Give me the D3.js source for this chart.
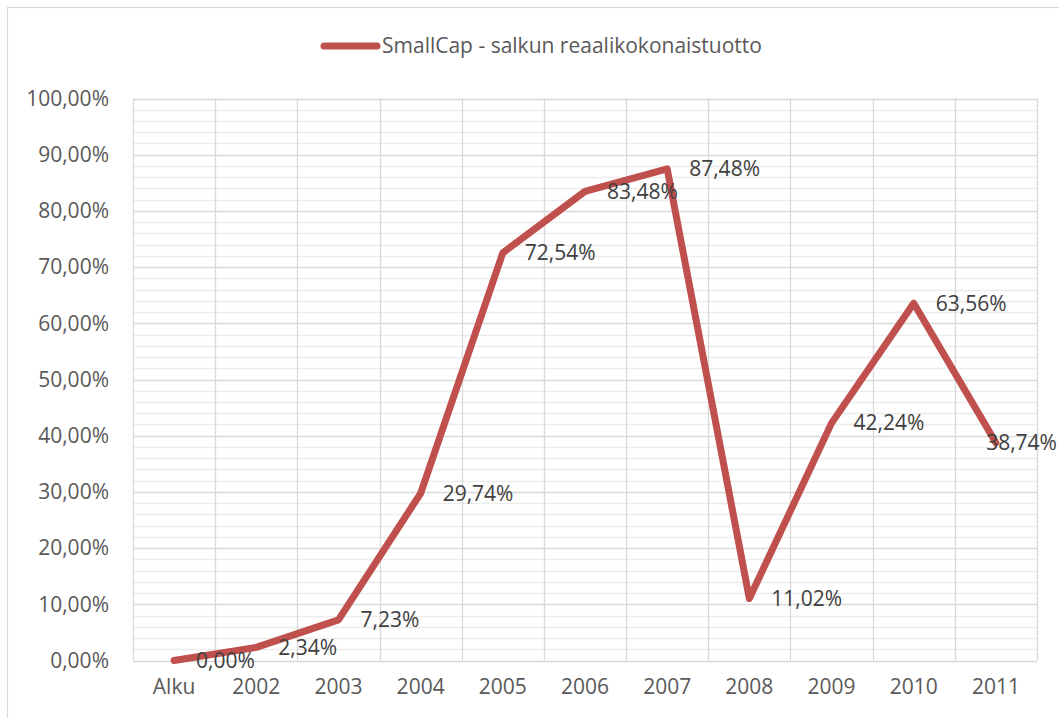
<!DOCTYPE html>
<html>
<head>
<meta charset="utf-8">
<script src="https://cdn.jsdelivr.net/npm/d3@7"></script>
<style>
  body { margin: 0; background: #fff; }
  svg { display: block; font-family: "Open Sans", sans-serif; }
</style>
</head>
<body>
<svg width="1059" height="718"></svg>
<script>
// data
var categories = ["Alku", "2002", "2003", "2004", "2005", "2006", "2007", "2008", "2009", "2010", "2011"];
var values = [0, 2.34, 7.23, 29.74, 72.54, 83.48, 87.48, 11.02, 42.24, 63.56, 38.74];
var seriesName = "SmallCap - salkun reaalikokonaistuotto";
var yTicks = [0, 10, 20, 30, 40, 50, 60, 70, 80, 90, 100];

var svg = d3.select("svg"),
    width = +svg.attr("width"),
    height = +svg.attr("height");

var lineColor = "#c0504d";
var fs = "21px";
var fmt = function(v){ return v.toFixed(2).replace(".", ",") + "%" };

// chart border
svg.append("rect")
  .attr("x", 7.5).attr("y", 7.5)
  .attr("width", width + 10).attr("height", height + 10)
  .attr("fill", "none")
  .attr("stroke", "#d9d9d9")
  .attr("stroke-width", 1.2)

var plot = { left: 133, right: 1037, top: 98.5, bottom: 660.5 };

var x = d3.scaleBand()
  .domain(categories)
  .range([plot.left, plot.right]);

var y = d3.scaleLinear()
  .domain([0, 100])
  .range([plot.bottom, plot.top]);

// minor gridlines every 2%
var minor = d3.range(0, 101, 2).filter(function(d){ return d % 10 != 0 });
svg.append("g")
  .selectAll("line")
  .data(minor)
  .enter()
  .append("line")
    .attr("x1", plot.left).attr("x2", plot.right)
    .attr("y1", function(d){ return Math.round(y(d)) + 0.5 })
    .attr("y2", function(d){ return Math.round(y(d)) + 0.5 })
    .attr("stroke", "#ececec")
    .attr("stroke-width", 1.3)

// major gridlines
svg.append("g")
  .selectAll("line")
  .data(yTicks)
  .enter()
  .append("line")
    .attr("x1", plot.left).attr("x2", plot.right)
    .attr("y1", function(d){ return Math.round(y(d)) + 0.5 })
    .attr("y2", function(d){ return Math.round(y(d)) + 0.5 })
    .attr("stroke", "#d9d9d9")
    .attr("stroke-width", 1.3)

// vertical gridlines at category boundaries
var bounds = categories.map(function(c){ return x(c) }).concat([plot.right]);
svg.append("g")
  .selectAll("line")
  .data(bounds)
  .enter()
  .append("line")
    .attr("x1", function(d){ return Math.round(d) + 0.5 })
    .attr("x2", function(d){ return Math.round(d) + 0.5 })
    .attr("y1", plot.top).attr("y2", plot.bottom)
    .attr("stroke", "#d9d9d9")
    .attr("stroke-width", 1.3)

// y axis labels
var yAxis = svg.append("g")
  .attr("transform", "translate(" + (plot.left - 24) + ",0)")
  .call(d3.axisLeft(y).tickValues(yTicks).tickSize(0).tickPadding(0).tickFormat(fmt));
yAxis.select(".domain").remove();
yAxis.selectAll("text")
  .attr("fill", "#595959")
  .style("font-size", fs)
  .style("font-family", "Open Sans, sans-serif");

// x axis labels
var xAxis = svg.append("g")
  .attr("transform", "translate(0," + (plot.bottom + 19) + ")")
  .call(d3.axisBottom(x).tickSize(0).tickPadding(0));
xAxis.select(".domain").remove();
xAxis.selectAll("text")
  .attr("fill", "#595959")
  .style("font-size", fs)
  .style("font-family", "Open Sans, sans-serif");

// the line
var line = d3.line()
  .x(function(d, i){ return x(categories[i]) + x.bandwidth() / 2 })
  .y(function(d){ return y(d) });

svg.append("path")
  .datum(values)
  .attr("d", line)
  .attr("fill", "none")
  .attr("stroke", lineColor)
  .attr("stroke-width", 7)
  .attr("stroke-linecap", "round")
  .attr("stroke-linejoin", "round")

// data labels to the right of points, pulled back inside if they'd overflow
svg.append("g")
  .selectAll("text")
  .data(values)
  .enter()
  .append("text")
    .attr("x", function(d, i){ return x(categories[i]) + x.bandwidth() / 2 + 22 })
    .attr("y", function(d){ return y(d) })
    .attr("dy", "0.35em")
    .attr("fill", "#404040")
    .style("font-size", fs)
    .text(fmt)
    .each(function(){
      var b = this.getBBox();
      if (b.x + b.width > width - 2) {
        d3.select(this).attr("x", width - 2 - b.width);
      }
    })

// legend
var legend = svg.append("g");
legend.append("line")
  .attr("x1", 324).attr("x2", 377)
  .attr("y1", 46).attr("y2", 46)
  .attr("stroke", lineColor)
  .attr("stroke-width", 7)
  .attr("stroke-linecap", "round")
legend.append("text")
  .attr("x", 382).attr("y", 46)
  .attr("dy", "0.35em")
  .attr("fill", "#595959")
  .style("font-size", fs)
  .text(seriesName)
</script>
</body>
</html>
